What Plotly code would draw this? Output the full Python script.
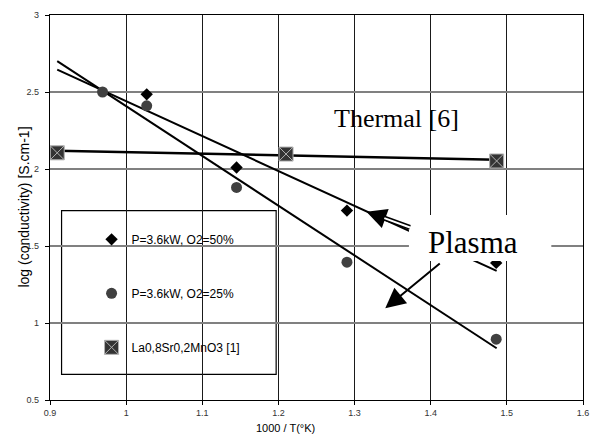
import plotly.graph_objects as go

# ---- data ----
inv_T_50 = [1.027, 1.145, 1.290, 1.486]
log_cond_50 = [2.485, 2.010, 1.730, 1.390]

inv_T_25 = [0.969, 1.027, 1.145, 1.290, 1.486]
log_cond_25 = [2.500, 2.410, 1.880, 1.395, 0.895]

inv_T_ref = [0.9095, 1.210, 1.4866]
log_cond_ref = [2.105, 2.097, 2.052]

fit_x = [0.9095, 1.4866]
fit_50 = [2.645, 1.338]
fit_25 = [2.700, 0.836]
fit_ref = [2.119, 2.060]

series_names = ["P=3.6kW, O2=50%", "P=3.6kW, O2=25%", "La0,8Sr0,2MnO3 [1]"]

x_tick_vals = [0.9, 1.0, 1.1, 1.2, 1.3, 1.4, 1.5, 1.6]
x_tick_text = ["0.9", "1", "1.1", "1.2", "1.3", "1.4", "1.5", "1.6"]
y_tick_vals = [0.5, 1.0, 1.5, 2.0, 2.5, 3.0]
y_tick_text = ["0.5", "1", "1.5", "2", "2.5", "3"]

SANS = "Liberation Sans, Arial, sans-serif"
SERIF = "Liberation Serif, Times New Roman, serif"

fig = go.Figure()

# trend lines
for fy, w in [(fit_50, 2), (fit_25, 2), (fit_ref, 2.5)]:
    fig.add_trace(go.Scatter(x=fit_x, y=fy, mode="lines",
                             line=dict(color="black", width=w),
                             showlegend=False, hoverinfo="skip"))

fig.add_trace(go.Scatter(x=inv_T_50, y=log_cond_50, mode="markers", name=series_names[0],
                         legendgroup="a",
                         marker=dict(symbol="diamond", size=9.5, color="black")))
fig.add_trace(go.Scatter(x=inv_T_25, y=log_cond_25, mode="markers", name=series_names[1],
                         legendgroup="b",
                         marker=dict(symbol="circle", size=11, color="#404040")))
fig.add_trace(go.Scatter(x=inv_T_ref, y=log_cond_ref, mode="markers", name=series_names[2],
                         legendgroup="c",
                         marker=dict(symbol="square-x", size=14, color="#333333",
                                     line=dict(color="#b0b0b0", width=1))))

axis_common = dict(showline=True, linecolor="black", linewidth=1.2, mirror=True,
                   ticks="outside", ticklen=4, tickcolor="black",
                   zeroline=False)

fig.update_xaxes(range=[0.9, 1.6], tickvals=x_tick_vals, ticktext=x_tick_text,
                 showgrid=True, gridcolor="#1a1a1a", gridwidth=1,
                 tickfont=dict(family=SANS, size=9, color="#333333"),
                 **axis_common)
fig.update_yaxes(range=[0.5, 3.0], tickvals=y_tick_vals, ticktext=y_tick_text,
                 showgrid=True, gridcolor="#808080", gridwidth=1.5,
                 tickfont=dict(family=SANS, size=9, color="#333333"),
                 ticklabelstandoff=4,
                 **axis_common)

shapes = [
    # legend frame
    dict(type="rect", xref="paper", yref="paper", x0=0.0217, x1=0.4243, y0=0.0668, y1=0.4917,
         fillcolor="white", line=dict(color="black", width=1.2), layer="between"),
    # white label box behind "Plasma"
    dict(type="rect", xref="x", yref="y", x0=1.3714, x1=1.5584, y0=1.403, y1=1.701,
         fillcolor="white", line=dict(width=0), layer="above"),
]

annotations = [
    dict(text="Thermal [6]", x=1.355, y=2.326, xref="x", yref="y", showarrow=False,
         font=dict(family=SERIF, size=26, color="black")),
    dict(text="Plasma", x=1.4558, y=1.523, xref="x", yref="y", showarrow=False,
         font=dict(family=SERIF, size=31, color="black")),
    # arrow 1 (double shaft): black thick + white core
    dict(text="", x=1.3156, y=1.7227, xref="x", yref="y", ax=45, ay=16.3,
         showarrow=True, arrowhead=2, arrowsize=0.8, arrowwidth=5, arrowcolor="black"),
    dict(text="", x=1.3156, y=1.7227, xref="x", yref="y", ax=45, ay=16.3,
         showarrow=True, arrowhead=0, arrowwidth=2, arrowcolor="white", standoff=19),
    # arrow 2
    dict(text="", x=1.3403, y=1.0955, xref="x", yref="y", ax=56, ay=-46,
         showarrow=True, arrowhead=2, arrowsize=2, arrowwidth=2, arrowcolor="black"),
    # axis titles
    dict(text="1000 / T(°K)", x=0.4416, y=-0.0727, xref="paper", yref="paper",
         showarrow=False, xanchor="center", yanchor="middle",
         font=dict(family=SANS, size=11, color="black")),
    dict(text="log (conductivity) [S.cm-1]", x=-0.0506, y=0.5, xref="paper", yref="paper",
         showarrow=False, textangle=-90, xanchor="center", yanchor="middle",
         font=dict(family=SANS, size=14, color="black")),
]

fig.update_layout(
    width=596, height=435,
    margin=dict(l=50, r=7, t=15, b=35),
    paper_bgcolor="white", plot_bgcolor="white",
    showlegend=True,
    legend=dict(x=0.078, y=0.455, xanchor="left", yanchor="top",
                bgcolor="rgba(0,0,0,0)", borderwidth=0, tracegroupgap=35,
                font=dict(family=SANS, size=12, color="black")),
    shapes=shapes,
    annotations=annotations,
)

fig.write_html("out.html",
               config={"displayModeBar": False},
               post_script="document.body.style.margin='0';document.body.style.overflow='hidden';")
